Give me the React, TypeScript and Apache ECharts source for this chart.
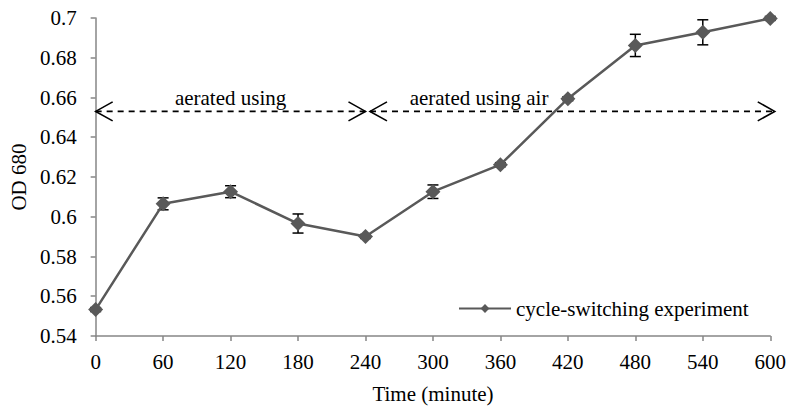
import React, { useEffect, useRef } from "react";
import * as echarts from "echarts";

const times = [0, 60, 120, 180, 240, 300, 360, 420, 480, 540, 600];
const odValues = [0.5533, 0.6065, 0.6126, 0.5966, 0.5901, 0.6126, 0.6262, 0.6594, 0.6862, 0.6928, 0.6998];
const odErrors = [0.001, 0.003, 0.003, 0.0048, 0.001, 0.0034, 0.001, 0.001, 0.0056, 0.0063, 0.001];
const seriesName = "cycle-switching experiment";
const arrowSegments = [
  [0, 240],
  [244, 604],
];
const arrowLevel = 0.653;
const annotationTexts = ["aerated using", "aerated using air"];
const annotationX = [120, 341];

const FONT = "'Liberation Serif', 'Times New Roman', serif";

export default function App() {
  const ref = useRef<HTMLDivElement>(null);
  useEffect(() => {
    document.body.style.margin = "0";
    document.body.style.overflow = "hidden";
    if (!ref.current) return;
    const chart = echarts.init(ref.current, undefined, { renderer: "svg" });
    const lineData = times.map((t, i) => [t, odValues[i]]);
    const errData = times.map((t, i) => [t, odValues[i], odErrors[i]]);
    const arrowData = arrowSegments.map((s) => [s[0], s[1], arrowLevel]);
    const textData = annotationTexts.map((s, i) => [annotationX[i], arrowLevel, s]);

    chart.setOption({
      animation: false,
      backgroundColor: "#fff",
      textStyle: { fontFamily: FONT },
      grid: { left: 95, right: 17, top: 18, bottom: 73 },
      legend: {
        data: [seriesName],
        left: 458,
        top: 298,
        padding: 0,
        itemWidth: 52,
        itemHeight: 11,
        itemGap: 6,
        textStyle: { fontFamily: FONT, fontSize: 21, color: "#000" },
      },
      xAxis: {
        type: "value",
        min: 0,
        max: 600,
        interval: 60,
        name: "Time (minute)",
        nameLocation: "middle",
        nameGap: 47,
        nameTextStyle: { fontFamily: FONT, fontSize: 21, color: "#000" },
        axisLine: { lineStyle: { color: "#868686", width: 1.5 } },
        axisTick: { show: true, length: 5, lineStyle: { color: "#868686", width: 1.5 } },
        axisLabel: { fontFamily: FONT, fontSize: 21, color: "#000", margin: 15, hideOverlap: false },
        splitLine: { show: false },
      },
      yAxis: {
        type: "value",
        min: 0.54,
        max: 0.7,
        interval: 0.02,
        name: "OD 680",
        nameLocation: "middle",
        nameGap: 62,
        nameTextStyle: { fontFamily: FONT, fontSize: 21, color: "#000" },
        axisLine: { show: true, lineStyle: { color: "#868686", width: 1.5 } },
        axisTick: { show: true, length: 5, lineStyle: { color: "#868686", width: 1.5 } },
        axisLabel: {
          fontFamily: FONT,
          fontSize: 21,
          color: "#000",
          margin: 19,
          formatter: (v: number) => String(parseFloat(v.toFixed(2))),
        },
        splitLine: { show: false },
      },
      series: [
        {
          type: "custom",
          z: 1,
          silent: true,
          clip: false,
          data: errData,
          renderItem: (params: any, api: any) => {
            const x = api.value(0);
            const y = api.value(1);
            const e = api.value(2);
            const top = api.coord([x, y + e]);
            const bot = api.coord([x, y - e]);
            const hw = 5.5;
            const style = { stroke: "#000", lineWidth: 1.5 };
            return {
              type: "group",
              children: [
                { type: "line", shape: { x1: top[0], y1: top[1], x2: bot[0], y2: bot[1] }, style },
                { type: "line", shape: { x1: top[0] - hw, y1: top[1], x2: top[0] + hw, y2: top[1] }, style },
                { type: "line", shape: { x1: bot[0] - hw, y1: bot[1], x2: bot[0] + hw, y2: bot[1] }, style },
              ],
            };
          },
        },
        {
          type: "custom",
          z: 1,
          silent: true,
          clip: false,
          data: arrowData,
          renderItem: (params: any, api: any) => {
            const a = api.coord([api.value(0), api.value(2)]);
            const b = api.coord([api.value(1), api.value(2)]);
            const L = 17;
            const H = 9.5;
            const stroke = { stroke: "#000", lineWidth: 1.6, fill: null };
            return {
              type: "group",
              children: [
                {
                  type: "line",
                  shape: { x1: a[0], y1: a[1], x2: b[0], y2: b[1] },
                  style: { stroke: "#000", lineWidth: 1.6, lineDash: [6, 5] },
                },
                {
                  type: "polyline",
                  shape: { points: [[a[0] + L, a[1] - H], [a[0], a[1]], [a[0] + L, a[1] + H]] },
                  style: stroke,
                },
                {
                  type: "polyline",
                  shape: { points: [[b[0] - L, b[1] - H], [b[0], b[1]], [b[0] - L, b[1] + H]] },
                  style: stroke,
                },
              ],
            };
          },
        },
        {
          type: "custom",
          z: 1,
          silent: true,
          clip: false,
          data: textData,
          renderItem: (params: any, api: any) => {
            const p = api.coord([api.value(0), api.value(1)]);
            return {
              type: "text",
              x: p[0],
              y: p[1] - 3,
              style: {
                text: textData[params.dataIndex][2],
                fontFamily: FONT,
                fontSize: 21,
                fill: "#000",
                align: "center",
                verticalAlign: "bottom",
              },
            };
          },
        },
        {
          name: seriesName,
          type: "line",
          z: 3,
          data: lineData,
          symbol: "diamond",
          symbolSize: 15,
          lineStyle: { color: "#595959", width: 2.5 },
          itemStyle: { color: "#595959" },
        },
      ],
    });
    return () => chart.dispose();
  }, []);
  return <div ref={ref} style={{ width: 789, height: 409 }} />;
}
